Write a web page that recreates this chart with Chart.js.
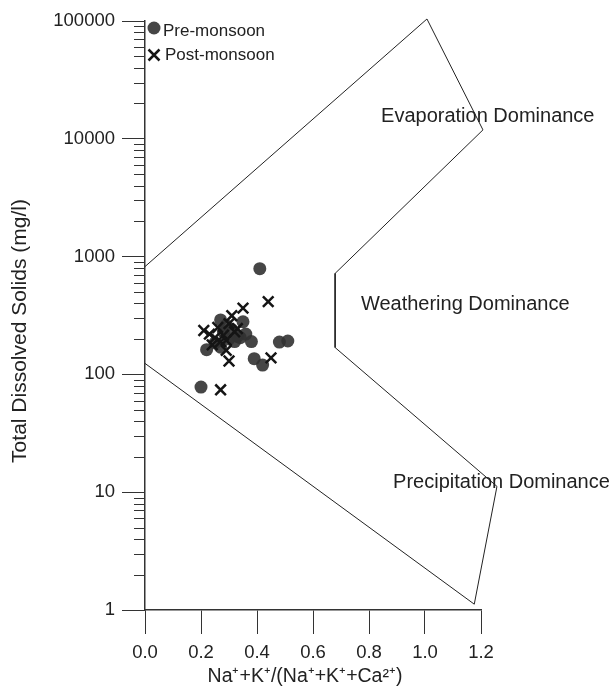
<!DOCTYPE html>
<html>
<head>
<meta charset="utf-8">
<script src="https://cdn.jsdelivr.net/npm/chart.js@4/dist/chart.umd.min.js"></script>
<style>
  body { margin: 0; background: #fff; }
  #c { display: block; }
</style>
</head>
<body>
<canvas id="c" width="615" height="690"></canvas>
<script>
// Gibbs-style diagram: TDS vs Na+K/(Na+K+Ca)

// pre-monsoon samples (circles)
const preX = [0.41, 0.27, 0.35, 0.29, 0.31, 0.36, 0.33, 0.30, 0.38, 0.48, 0.51, 0.22, 0.27, 0.25, 0.39, 0.42, 0.20, 0.34, 0.28, 0.32];
const preY = [790, 290, 280, 260, 240, 220, 210, 200, 190, 188, 192, 162, 170, 185, 136, 120, 78, 205, 230, 190];

// post-monsoon samples (crosses)
const postX = [0.44, 0.35, 0.31, 0.30, 0.21, 0.26, 0.28, 0.29, 0.24, 0.29, 0.30, 0.45, 0.27, 0.32, 0.25, 0.27, 0.33, 0.23];
const postY = [415, 365, 315, 270, 236, 250, 215, 195, 178, 160, 130, 138, 74, 230, 205, 190, 245, 220];

// boundary of the dominance fields
const edgeX = [0, 1.007, 1.207, 0.679, 0.679, 1.257, 1.176, 0];
const edgeY = [823, 104000, 11900, 720, 169, 11.2, 1.12, 124];

// labels of the fields
const zoneNames = ['Evaporation Dominance', 'Weathering Dominance', 'Precipitation Dominance'];
const zoneX = [0.843, 0.771, 0.886];
const zoneY = [15600, 390, 12.2];

const yTicks = [1, 10, 100, 1000, 10000, 100000];
const legendNames = ['Pre-monsoon', 'Post-monsoon'];
const xTitle = 'Na⁺+K⁺/(Na⁺+K⁺+Ca²⁺)';
const yTitle = 'Total Dissolved Solids (mg/l)';

const FONT = "'Liberation Sans', Arial, sans-serif";
const pts = (xs, ys) => xs.map((x, i) => ({ x: x, y: ys[i] }));

// minor log ticks, axis titles, zone text and legend
const extras = {
    id: 'extras',
    afterDraw(chart) {
        const ctx = chart.ctx;
        const xs = chart.scales.x, ys = chart.scales.y;
        const left = chart.chartArea.left;

        ctx.save();
        ctx.strokeStyle = '#333';
        ctx.lineWidth = 1;
        for (let d = 0; d < 5; d++) {
            for (let m = 2; m <= 9; m++) {
                const py = Math.round(ys.getPixelForValue(m * Math.pow(10, d))) + 0.5;
                ctx.beginPath();
                ctx.moveTo(left - 11, py);
                ctx.lineTo(left, py);
                ctx.stroke();
            }
        }

        ctx.fillStyle = '#222';
        ctx.textBaseline = 'middle';

        // axis titles
        ctx.textAlign = 'center';
        ctx.font = '19.5px ' + FONT;
        ctx.fillText(xTitle, 305, 677);
        ctx.save();
        ctx.translate(20, 331);
        ctx.rotate(-Math.PI / 2);
        ctx.font = '21px ' + FONT;
        ctx.fillText(yTitle, 0, 0);
        ctx.restore();

        ctx.textAlign = 'left';
        ctx.font = '20px ' + FONT;
        zoneNames.forEach((t, i) => {
            ctx.fillText(t, xs.getPixelForValue(zoneX[i]), ys.getPixelForValue(zoneY[i]));
        });

        // legend
        const ds = chart.data.datasets;
        const lx = left + 9, ly = [28, 55];
        ctx.fillStyle = ds[1].backgroundColor;
        ctx.beginPath();
        ctx.arc(lx, ly[0], 6.5, 0, Math.PI * 2);
        ctx.fill();
        ctx.strokeStyle = ds[0].borderColor;
        ctx.lineWidth = ds[0].borderWidth;
        ctx.beginPath();
        ctx.moveTo(lx - 5.5, ly[1] - 5.5); ctx.lineTo(lx + 5.5, ly[1] + 5.5);
        ctx.moveTo(lx + 5.5, ly[1] - 5.5); ctx.lineTo(lx - 5.5, ly[1] + 5.5);
        ctx.stroke();
        ctx.fillStyle = '#222';
        ctx.font = '17px ' + FONT;
        ctx.fillText(legendNames[0], lx + 9, ly[0] + 3);
        ctx.fillText(legendNames[1], lx + 11, ly[1]);
        ctx.restore();
    }
};

new Chart(document.getElementById('c'), {
    type: 'scatter',
    data: {
        datasets: [
            {
                label: legendNames[1],
                data: pts(postX, postY),
                pointStyle: 'crossRot',
                pointRadius: 7.5,
                borderColor: '#151515',
                backgroundColor: '#151515',
                borderWidth: 2.5,
                order: 0
            },
            {
                label: legendNames[0],
                data: pts(preX, preY),
                pointStyle: 'circle',
                pointRadius: 6.5,
                backgroundColor: 'rgba(50,50,50,0.9)',
                borderWidth: 0,
                order: 1
            },
            {
                label: 'boundary',
                data: pts(edgeX, edgeY),
                showLine: true,
                pointRadius: 0,
                borderColor: '#222',
                borderWidth: 1,
                tension: 0,
                clip: false,
                order: 2
            }
        ]
    },
    options: {
        responsive: false,
        animation: false,
        layout: { padding: { top: 21, right: 134, left: 0, bottom: 0 } },
        plugins: {
            legend: { display: false },
            tooltip: { enabled: false }
        },
        scales: {
            x: {
                type: 'linear',
                min: 0,
                max: 1.2,
                afterFit(scale) { scale.height = 80; },
                ticks: {
                    stepSize: 0.2,
                    padding: 8,
                    color: '#222',
                    font: { size: 18.5, family: FONT },
                    callback: v => v.toFixed(1)
                },
                grid: { drawOnChartArea: false, tickLength: 24, color: '#333', tickColor: '#333' },
                border: { color: '#333', width: 1.5 },
                title: { display: false }
            },
            y: {
                type: 'logarithmic',
                min: 1,
                max: 100000,
                afterFit(scale) { scale.width = 145; },
                afterBuildTicks(scale) { scale.ticks = yTicks.map(v => ({ value: v, major: true })); },
                ticks: {
                    padding: 7,
                    color: '#222',
                    font: { size: 18.5, family: FONT },
                    callback: v => String(v)
                },
                grid: { drawOnChartArea: false, tickLength: 23, color: '#333', tickColor: '#333' },
                border: { color: '#333', width: 1.5 },
                title: { display: false }
            }
        }
    },
    plugins: [extras]
});
</script>
</body>
</html>
